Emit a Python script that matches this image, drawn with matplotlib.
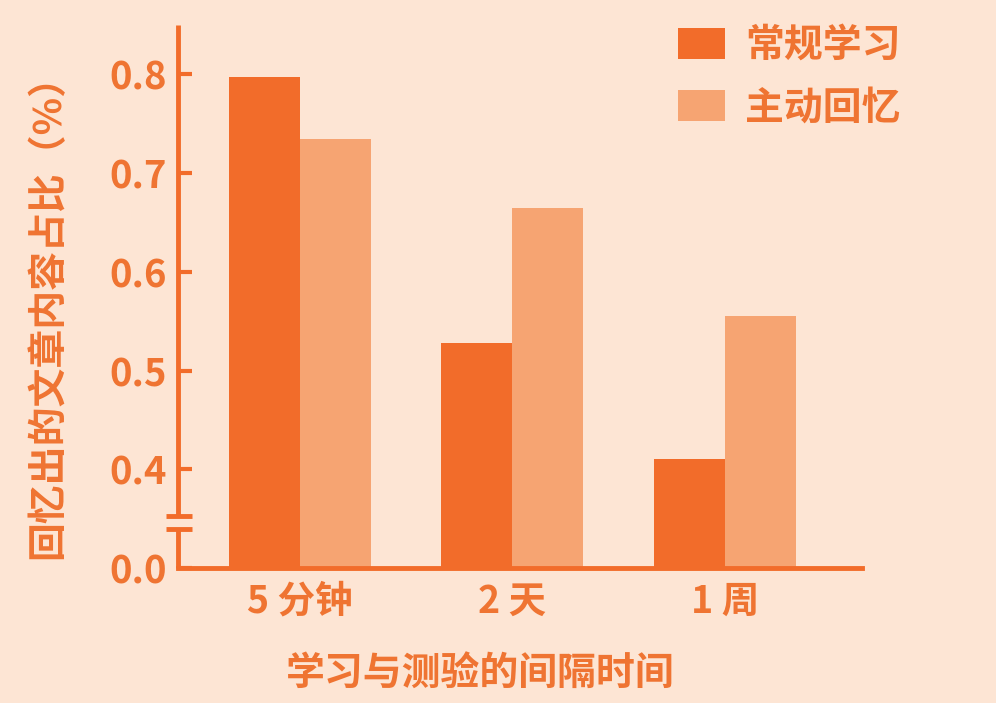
import numpy as np
import matplotlib
matplotlib.use('Agg')
import matplotlib.pyplot as plt

plt.rcParams['font.family'] = ['Noto Sans CJK SC', 'DejaVu Sans']
plt.rcParams['font.weight'] = 'bold'

categories = ['5 分钟', '2 天', '1 周']
series_names = ['常规学习', '主动回忆']
regular = [0.797, 0.528, 0.410]
recall = [0.735, 0.665, 0.555]
yticks = [0.0, 0.4, 0.5, 0.6, 0.7, 0.8]
ytick_labels = ['0.0', '0.4', '0.5', '0.6', '0.7', '0.8']

bg = '#FDE5D4'
dark = '#F26C2A'
light = '#F6A472'
txt = '#EF7432'


# broken axis: 0..0.4 squeezed into one tick step
def fwd(y):
    y = np.asarray(y, dtype=float)
    return np.where(y >= 0.4, y, 0.3 + y * 0.25)


def inv(t):
    t = np.asarray(t, dtype=float)
    return np.where(t >= 0.4, t, (t - 0.3) * 4.0)


fig = plt.figure(figsize=(9.96, 7.03), dpi=100, facecolor=bg)
ax = fig.add_axes([178 / 996, 1 - 568 / 703, (862 - 178) / 996, (568 - 25) / 703])
ax.set_facecolor(bg)
ax.set_yscale('function', functions=(fwd, inv))

x = np.arange(len(categories))
w = 0.334
ax.bar(x - w / 2, regular, w, color=dark, label=series_names[0], zorder=2)
ax.bar(x + w / 2, recall, w, color=light, label=series_names[1], zorder=2)

ax.set_xlim(-0.574, 2.645)
ax.set_ylim(0, 0.85)

for s in ['top', 'right', 'left']:
    ax.spines[s].set_visible(False)
ax.spines['bottom'].set_color(dark)
ax.spines['bottom'].set_linewidth(3.5)
ax.spines['bottom'].set_zorder(3)

# left spine in two pieces with break marks
tr = ax.get_yaxis_transform()
b_lo, b_hi = 0.158, 0.211
ax.plot([0, 0], [0, b_lo], color=dark, lw=3.5, transform=tr, clip_on=False,
        solid_capstyle='butt', zorder=3)
ax.plot([0, 0], [b_hi, 0.85], color=dark, lw=3.5, transform=tr, clip_on=False,
        solid_capstyle='butt', zorder=3)
for yb in (b_lo, b_hi):
    ax.plot([-0.018, 0.02], [yb, yb], color=dark, lw=3.5, transform=tr,
            clip_on=False, solid_capstyle='butt', zorder=3)

ax.set_yticks(yticks)
ax.set_yticklabels(ytick_labels)
ax.tick_params(axis='y', direction='in', length=10, width=3, color=dark,
               labelsize=27.5, labelcolor=txt, pad=8)
ax.set_xticks(x)
ax.set_xticklabels(categories)
ax.tick_params(axis='x', length=0, labelsize=27, labelcolor=txt, pad=10)
for lab in ax.get_yticklabels() + ax.get_xticklabels():
    lab.set_fontweight('bold')

ax.set_xlabel('学习与测验的间隔时间', fontsize=28, color=txt, fontweight='bold')
ax.xaxis.set_label_coords(0.4415, -0.158)
ax.set_ylabel('回忆出的文章内容占比（%）', fontsize=28, color=txt,
              fontweight='bold')
ax.yaxis.set_label_coords(-0.162, 0.48)

leg = ax.legend(loc='upper left', bbox_to_anchor=(678 / 996, 1 - 26 / 703),
                bbox_transform=fig.transFigure, frameon=False, fontsize=28,
                handlelength=1.2, handleheight=0.85, handletextpad=0.52,
                labelspacing=0.6, borderpad=0, borderaxespad=0)
for t in leg.get_texts():
    t.set_color(txt)
    t.set_fontweight('bold')

fig.savefig('out.png', dpi=100, facecolor=bg)
